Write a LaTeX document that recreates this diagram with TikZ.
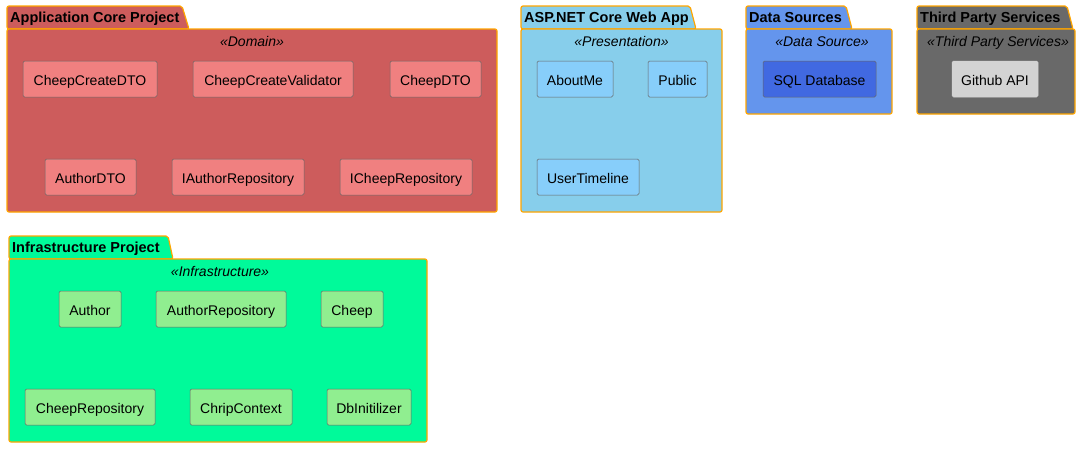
\documentclass[tikz,border=0pt]{standalone}
\usepackage{fontspec}
\setmainfont{Liberation Sans}
\usepackage{xcolor}
\usepackage{tikz}
\usetikzlibrary{positioning}

\definecolor{indianred}{HTML}{CD5C5C}
\definecolor{lightcoral}{HTML}{F08080}
\definecolor{skyblue}{HTML}{87CEEB}
\definecolor{lightskyblue}{HTML}{87CEFA}
\definecolor{cornflower}{HTML}{6495ED}
\definecolor{royalblue}{HTML}{4169E1}
\definecolor{dimgray}{HTML}{696969}
\definecolor{lightgray}{HTML}{D3D3D3}
\definecolor{springgreen}{HTML}{00FA9A}
\definecolor{lightgreen}{HTML}{90EE90}
\definecolor{pkgborder}{HTML}{FFA500}

\begin{document}
\begin{tikzpicture}[x=1pt, y=-1pt,
                    pkg/.style={draw=pkgborder, line width=1.2pt, rounded corners=2pt},
                    title/.style={anchor=west, inner sep=0pt, text height=12pt, text depth=2.5pt,
                                  font=\fontsize{14.5}{17}\selectfont\bfseries},
                    stereo/.style={inner sep=0pt, text height=12pt, text depth=2pt,
                                   font=\fontsize{14}{16}\selectfont\itshape},
                    comp/.style={draw=black!60, line width=0.5pt, rounded corners=1.5pt, inner sep=0pt,
                                 minimum height=36pt, text height=14pt, text depth=2pt,
                                 font=\fontsize{14}{16}\selectfont},
                   ]

\useasboundingbox (0,0) rectangle (1081,448);

% Application Core Project
\draw[pkg, fill=indianred] (7,29) -- (7,6) -- (182,6) -- (189,29) -- cycle;
\draw[pkg, fill=indianred] (7,29) rectangle (497,212);
\node[title] (coretitle) at (10,17.5) {Application Core Project};
\node[stereo] (corestereo) at (252,41) {«Domain»};

\node[comp, fill=lightcoral, minimum width=134pt] (ccdto) at (90,79) {CheepCreateDTO};
\node[comp, fill=lightcoral, minimum width=160pt] (ccval) at (273,79) {CheepCreateValidator};
\node[comp, fill=lightcoral, minimum width=91pt] (cdto) at (435.5,79) {CheepDTO};
\node[comp, fill=lightcoral, minimum width=91pt] (adto) at (90.5,177) {AuthorDTO};
\node[comp, fill=lightcoral, minimum width=132pt] (iarepo) at (238,177) {IAuthorRepository};
\node[comp, fill=lightcoral, minimum width=132pt] (icrepo) at (406,177) {ICheepRepository};

% ASP.NET Core Web App
\draw[pkg, fill=skyblue] (521,29) -- (521,6) -- (690,6) -- (696,29) -- cycle;
\draw[pkg, fill=skyblue] (521,29) rectangle (722,212);
\node[title] (webtitle) at (524,17.5) {ASP.NET Core Web App};
\node[stereo] (webstereo) at (621.5,41) {«Presentation»};

\node[comp, fill=lightskyblue, minimum width=76pt] (aboutme) at (575,79) {AboutMe};
\node[comp, fill=lightskyblue, minimum width=59pt] (public) at (677.5,79) {Public};
\node[comp, fill=lightskyblue, minimum width=102pt] (usertl) at (588,177) {UserTimeline};

% Data Sources
\draw[pkg, fill=cornflower] (746,29) -- (746,6) -- (846,6) -- (852,29) -- cycle;
\draw[pkg, fill=cornflower] (746,29) rectangle (892,114);
\node[title] (datatitle) at (749,17.5) {Data Sources};
\node[stereo] (datastereo) at (822,41) {«Data Source»};

\node[comp, fill=royalblue, minimum width=113pt] (sqldb) at (819.5,79) {SQL Database};

% Third Party Services
\draw[pkg, fill=dimgray] (917,29) -- (917,6) -- (1067,6) -- (1073,29) -- cycle;
\draw[pkg, fill=dimgray] (917,29) rectangle (1075,114);
\node[title] (thirdtitle) at (920,17.5) {Third Party Services};
\node[stereo] (thirdstereo) at (998,41) {«Third Party Services»};

\node[comp, draw=lightgray, fill=lightgray, minimum width=86pt] (github) at (995,79) {Github API};

% Infrastructure Project
\draw[pkg, fill=springgreen] (9,259) -- (9,236) -- (168,236) -- (173,259) -- cycle;
\draw[pkg, fill=springgreen] (9,259) rectangle (427,442);
\node[title] (infratitle) at (12,247.5) {Infrastructure Project};
\node[stereo] (infrastereo) at (220,271) {«Infrastructure»};

\node[comp, fill=lightgreen, minimum width=62pt] (author) at (90,309) {Author};
\node[comp, fill=lightgreen, minimum width=130pt] (arepo) at (221,309) {AuthorRepository};
\node[comp, fill=lightgreen, minimum width=62pt] (cheep) at (352,309) {Cheep};
\node[comp, fill=lightgreen, minimum width=130pt] (crepo) at (90,407) {CheepRepository};
\node[comp, fill=lightgreen, minimum width=102pt] (chrip) at (241,407) {ChripContext};
\node[comp, fill=lightgreen, minimum width=84pt] (dbinit) at (369,407) {DbInitilizer};

\end{tikzpicture}
\end{document}
